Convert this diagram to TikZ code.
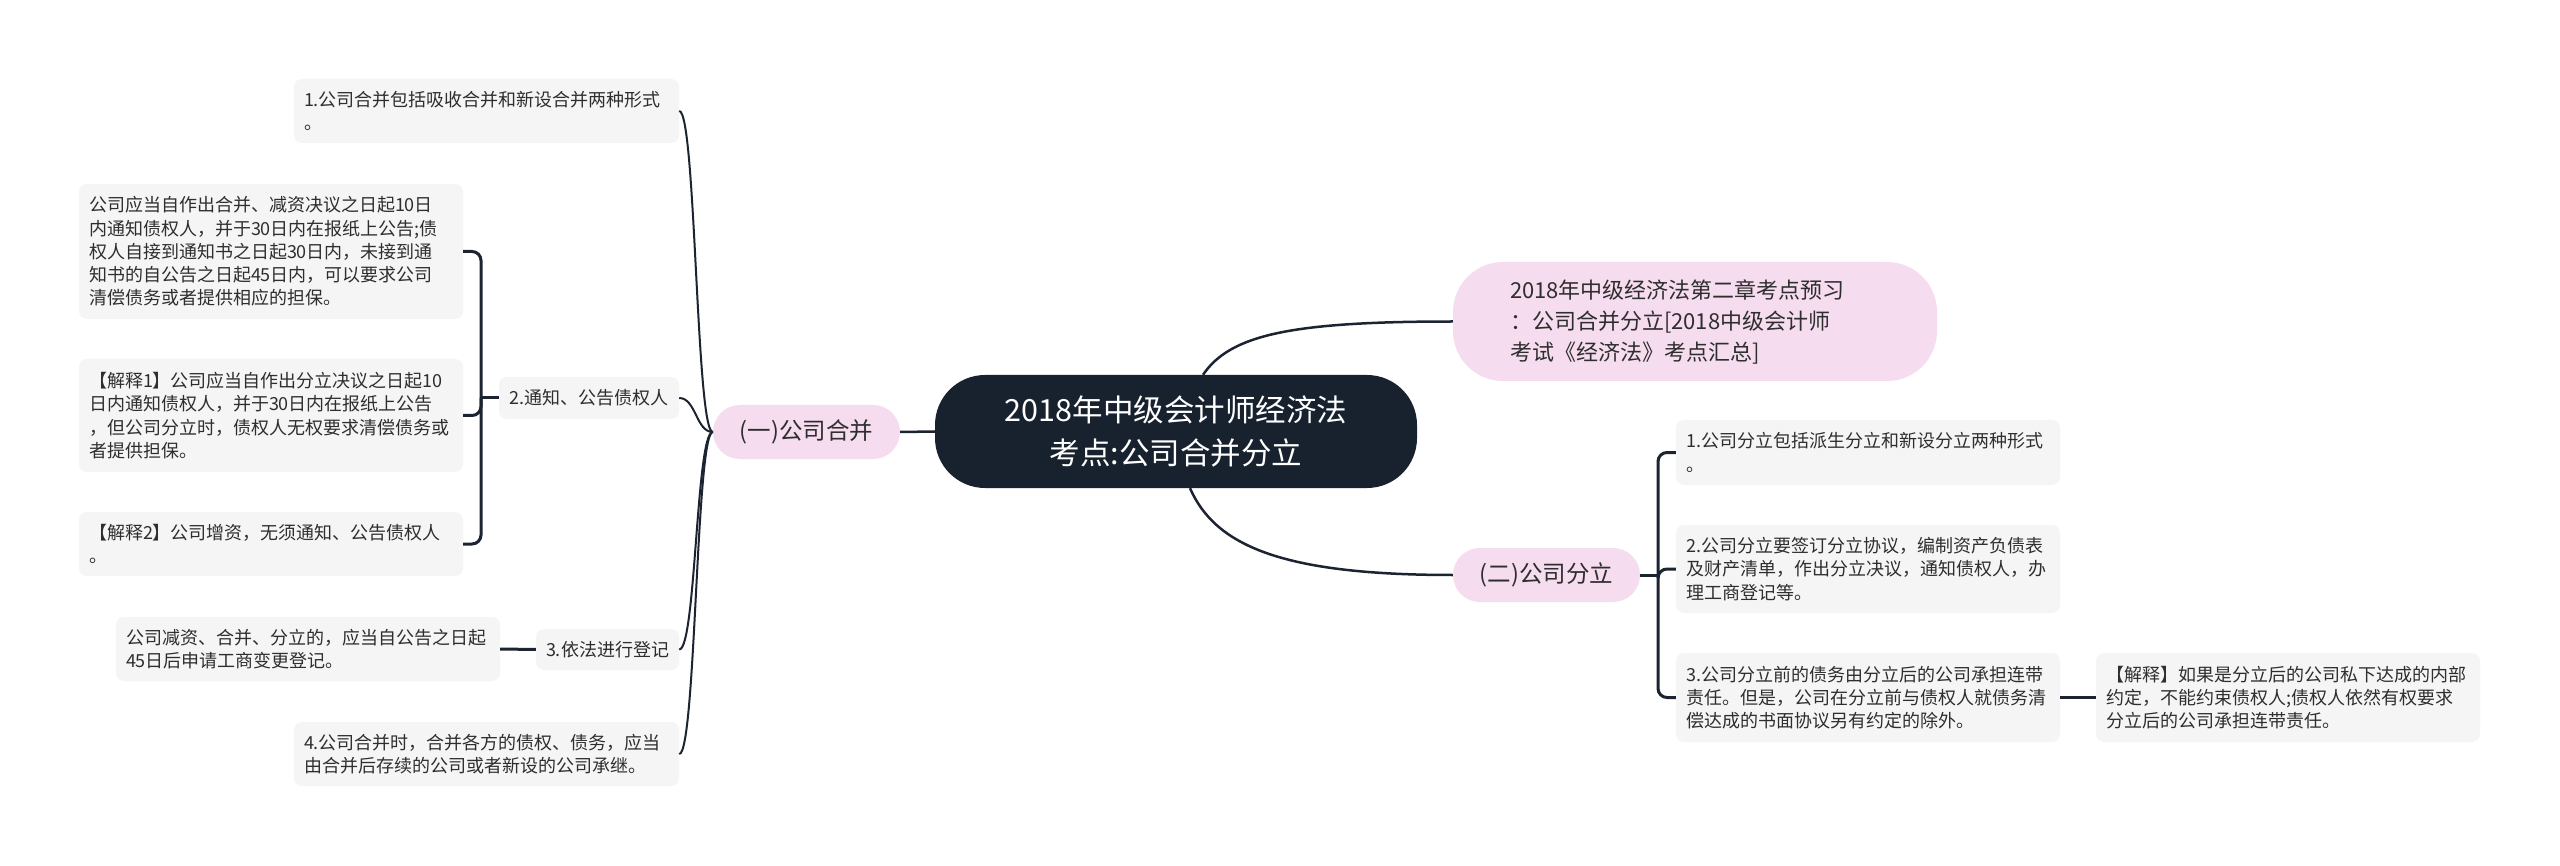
\documentclass[tikz,border=0pt]{standalone}
\usepackage{fontspec}
\setmainfont{Noto Sans CJK SC}
\definecolor{navy}{HTML}{18222F}
\definecolor{pinkc}{HTML}{F6DCEF}
\definecolor{leafgray}{HTML}{F5F5F5}
\definecolor{txt}{HTML}{2E2E2E}
\definecolor{linec}{HTML}{1C2431}
\begin{document}
\begin{tikzpicture}[x=1pt,y=-1pt,
  leaf/.style={fill=leafgray, rounded corners=8pt, inner sep=0pt, text=txt, align=left, font=\fontsize{18}{23.3}\selectfont},
  pinkbox/.style={fill=pinkc, inner sep=0pt, text=txt, font=\fontsize{22}{31}\selectfont},
  pinkpill/.style={pinkbox, rounded corners=27pt, minimum width=187pt, minimum height=54pt, font=\fontsize{23.5}{31}\selectfont},
  rootbox/.style={fill=navy, text=white, inner sep=0pt, rounded corners=50pt, align=center, font=\fontsize{30.5}{43}\selectfont},
  mainline/.style={draw=linec, line width=2.5pt},
  trunkline/.style={draw=linec, line width=2pt},
  brkline/.style={draw=linec, line width=3pt, rounded corners=9pt}]
\useasboundingbox[fill=white] (0,0) rectangle (2560,866);

% root
\node[rootbox, minimum width=482pt, minimum height=113pt] (c) at (1176,431.5) {2018年中级会计师经济法\\考点:公司合并分立};

% first level
\node[pinkpill] (pL) at (806.5,432) {(一)公司合并};
\node[pinkbox, rounded corners=50pt, minimum width=484pt, minimum height=119pt, text width=370pt, align=left] (pR1) at (1695,321.5) {2018年中级经济法第二章考点预习\\：公司合并分立[2018中级会计师\\考试《经济法》考点汇总]};
\node[pinkpill] (pR2) at (1546.5,575) {(二)公司分立};

% left children
\node[leaf, minimum width=385pt, minimum height=64pt, text width=365pt] (b1) at (486.5,111) {1.公司合并包括吸收合并和新设合并两种形式\\。};
\node[leaf, align=center, minimum width=180pt, minimum height=42pt] (n2) at (589,398) {2.通知、公告债权人};
\node[leaf, align=center, minimum width=143pt, minimum height=41pt] (n3) at (607.5,649.5) {3.依法进行登记};
\node[leaf, minimum width=385pt, minimum height=64pt, text width=365pt] (b4) at (486.5,754) {4.公司合并时，合并各方的债权、债务，应当\\由合并后存续的公司或者新设的公司承继。};

\node[leaf, minimum width=384pt, minimum height=135pt, text width=364pt] (k1) at (271,251.5) {公司应当自作出合并、减资决议之日起10日\\内通知债权人，并于30日内在报纸上公告;债\\权人自接到通知书之日起30日内，未接到通\\知书的自公告之日起45日内，可以要求公司\\清偿债务或者提供相应的担保。};
\node[leaf, minimum width=384pt, minimum height=113pt, text width=364pt] (k2) at (271,415.5) {【解释1】公司应当自作出分立决议之日起10\\日内通知债权人，并于30日内在报纸上公告\\，但公司分立时，债权人无权要求清偿债务或\\者提供担保。};
\node[leaf, minimum width=384pt, minimum height=64pt, text width=364pt] (k3) at (271,544) {【解释2】公司增资，无须通知、公告债权人\\。};
\node[leaf, minimum width=384pt, minimum height=64pt, text width=364pt] (k4) at (308,649) {公司减资、合并、分立的，应当自公告之日起\\45日后申请工商变更登记。};

% right children
\node[leaf, minimum width=384pt, minimum height=65pt, text width=364pt] (ra) at (1868,452.5) {1.公司分立包括派生分立和新设分立两种形式\\。};
\node[leaf, minimum width=384pt, minimum height=88pt, text width=364pt] (rb) at (1868,569) {2.公司分立要签订分立协议，编制资产负债表\\及财产清单，作出分立决议，通知债权人，办\\理工商登记等。};
\node[leaf, minimum width=384pt, minimum height=89pt, text width=364pt] (rc) at (1868,697.5) {3.公司分立前的债务由分立后的公司承担连带\\责任。但是，公司在分立前与债权人就债务清\\偿达成的书面协议另有约定的除外。};
\node[leaf, minimum width=384pt, minimum height=89pt, text width=364pt] (rd) at (2288,697.5) {【解释】如果是分立后的公司私下达成的内部\\约定，不能约束债权人;债权人依然有权要求\\分立后的公司承担连带责任。};

% junctions
\coordinate (j2) at (481,398);
\coordinate (j5) at (1658,575);

% root connectors
\draw[mainline] (c.west) -- (pL.east);
\draw[mainline] ([xshift=27pt]c.north) .. controls (1230,335) and (1290,321.5) .. (pR1.west);
\draw[mainline] ([xshift=14pt]c.south) .. controls (1215,545) and (1280,575) .. (pR2.west);

% left trunk
\draw[trunkline] (pL.west) .. controls (696,432) and (696,111) .. (b1.east);
\draw[trunkline] (pL.west) .. controls (696,432) and (696,398) .. (n2.east);
\draw[trunkline] (pL.west) .. controls (696,432) and (696,649.5) .. (n3.east);
\draw[trunkline] (pL.west) .. controls (696,432) and (696,754) .. (b4.east);

% bracket of node 2
\draw[brkline] (n2.west) -- (j2);
\draw[brkline] (j2) |- (k1.east);
\draw[brkline] (j2) |- (k2.east);
\draw[brkline] (j2) |- (k3.east);

% node 3
\draw[brkline] (k4.east) -- (n3.west);

% bracket of (二)
\draw[brkline] (pR2.east) -- (j5);
\draw[brkline] (j5) |- (ra.west);
\draw[brkline] (j5) |- (rb.west);
\draw[brkline] (j5) |- (rc.west);
\draw[brkline] (rc.east) -- (rd.west);
\end{tikzpicture}
\end{document}
